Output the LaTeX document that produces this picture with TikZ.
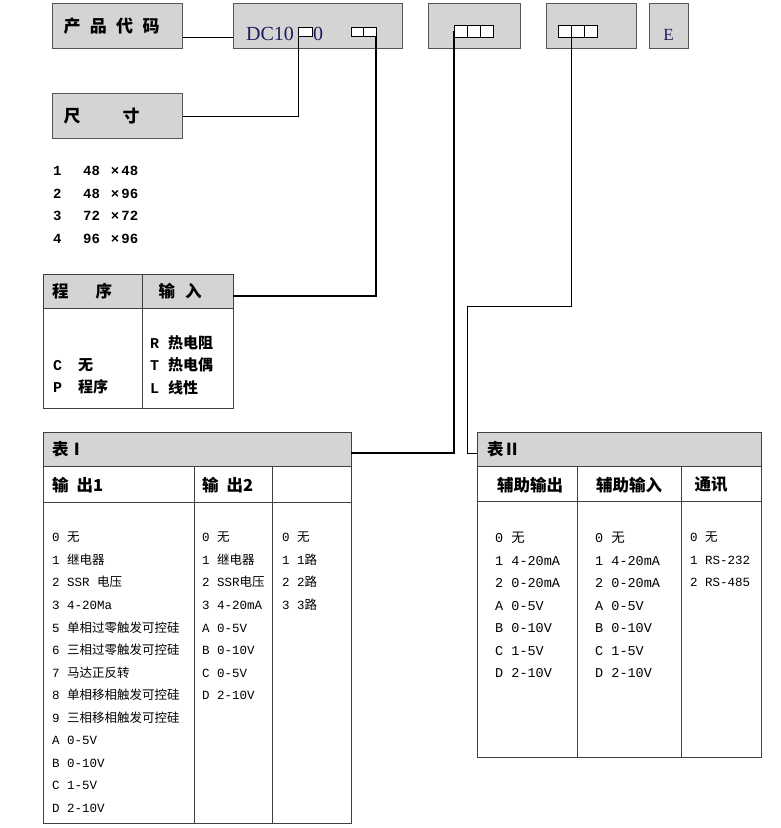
\documentclass[tikz,border=0pt]{standalone}
\usepackage{fontspec}
\setmainfont{Liberation Serif}
\setmonofont{Liberation Mono}
\newfontfamily\cj{Noto Sans CJK SC}
\usetikzlibrary{positioning,calc}
\definecolor{boxgray}{HTML}{D4D4D4}
\definecolor{boxedge}{HTML}{555555}
\definecolor{ink}{HTML}{1C1C5C}
\newcommand{\zh}[1]{{\cj #1}}
\tikzset{
  codebox/.style={draw=boxedge, fill=boxgray, line width=1.3pt, anchor=north west, inner sep=0pt},
  slot/.style={draw=black, fill=white, line width=1pt, minimum width=13.3pt, minimum height=9pt, inner sep=0pt, outer sep=0pt},
  lead/.style={line width=1.8pt, black},
  thinlead/.style={line width=0.9pt, black},
  grid/.style={draw=black!75, line width=0.9pt},
  band/.style={fill=boxgray, anchor=north west, inner sep=0pt},
  boxlabel/.style={font=\cj\bfseries\fontsize{17}{20}\selectfont, text width=108pt, align=left},
  hdr/.style={font=\cj\bfseries\fontsize{16.5}{19}\selectfont, inner sep=0pt},
  bolditems/.style={anchor=north west, align=left, inner sep=0pt, font=\ttfamily\bfseries\fontsize{15}{22.5}\selectfont},
  itemsA/.style={anchor=north west, align=left, inner sep=0pt, font=\ttfamily\fontsize{12.5}{22.55}\selectfont},
  itemsB/.style={anchor=north west, align=left, inner sep=0pt, font=\ttfamily\fontsize{13.5}{22.55}\selectfont},
}
\begin{document}
\begin{tikzpicture}[x=1pt,y=-1pt]
\useasboundingbox (0,0) rectangle (780,828);
% code line
\node[codebox, boxlabel, minimum width=130pt, minimum height=45pt] (prodbox) at (52,3) {产\hspace{9.3pt}品\hspace{9.3pt}代\hspace{9.3pt}码};
\node[codebox, boxlabel, minimum width=130pt, minimum height=45pt] (sizebox) at (52,93) {尺\hspace{42pt}寸};
\node[codebox, minimum width=169pt, minimum height=45pt] (dcbox) at (233,3) {};
\node[anchor=base west, inner sep=0pt, text=ink, font=\fontsize{20}{24}\selectfont] (dctxt) at (246,40) {DC10};
\node[slot, anchor=north west, minimum width=13.5pt] (sizesq) at (298.5,27) {};
\node[anchor=base west, inner sep=0pt, text=ink, font=\fontsize{20}{24}\selectfont] (dczero) at (313,40) {0};
\node[slot, anchor=north west, minimum width=12.5pt] (outa) at (351,27) {};
\node[slot, minimum width=12.5pt, right=0pt of outa] (outb) {};
\node[codebox, minimum width=92pt, minimum height=45pt] (optbox) at (428,3) {};
\node[slot, anchor=north west, minimum height=12pt] (s3a) at (454,25) {};
\node[slot, minimum height=12pt, right=0pt of s3a] (s3b) {};
\node[slot, minimum height=12pt, right=0pt of s3b] (s3c) {};
\node[codebox, minimum width=90pt, minimum height=45pt] (auxbox) at (546,3) {};
\node[slot, anchor=north west, minimum height=12pt] (s4a) at (558,25) {};
\node[slot, minimum height=12pt, right=0pt of s4a] (s4b) {};
\node[slot, minimum height=12pt, right=0pt of s4b] (s4c) {};
\node[codebox, minimum width=39pt, minimum height=45pt] (ebox) at (649,3) {};
\node[anchor=base, inner sep=0pt, text=ink, font=\fontsize{17}{20}\selectfont] (etxt) at (668.5,40) {E};

% sizes
\node[bolditems, font=\ttfamily\bfseries\fontsize{14}{22.6}\selectfont] (sizelist) at (53,166) {%
  \makebox[30pt][l]{1}48\hspace{11pt}×\hspace{2pt}48\\
  \makebox[30pt][l]{2}48\hspace{11pt}×\hspace{2pt}96\\
  \makebox[30pt][l]{3}72\hspace{11pt}×\hspace{2pt}72\\
  \makebox[30pt][l]{4}96\hspace{11pt}×\hspace{2pt}96};

% program / input
\node[band, minimum width=190pt, minimum height=34pt] (proghdr) at (43,274) {};
\draw[grid] (43,274) rectangle (233,408);
\draw[grid] (43,308) -- (233,308);
\draw[grid] (142,274) -- (142,408);
\node[hdr, anchor=west] (progt) at (52,291) {程\hspace{27pt}序};
\node[hdr] (inpt) at (180,291) {输\hspace{10pt}入};
\node[bolditems] (progopts) at (53,358) {%
  \makebox[25pt][l]{C}\zh{无}\\
  \makebox[25pt][l]{P}\zh{程序}};
\node[bolditems] (inopts) at (150,335) {%
  \makebox[18pt][l]{R}\zh{热电阻}\\
  \makebox[18pt][l]{T}\zh{热电偶}\\
  \makebox[18pt][l]{L}\zh{线性}};

% table I
\node[band, minimum width=308pt, minimum height=34pt] (tabAhdr) at (43,432) {};
\draw[grid] (43,432) rectangle (351,823);
\draw[grid] (43,466) -- (351,466);
\draw[grid] (43,502) -- (351,502);
\draw[grid] (194,466) -- (194,823);
\draw[grid] (272,466) -- (272,823);
\node[hdr, anchor=west] (tabAtitle) at (52,449) {表Ⅰ};
\node[hdr, anchor=west] (out1t) at (52,485) {输\hspace{8pt}出1};
\node[hdr, anchor=west] (out2t) at (202,485) {输\hspace{8pt}出2};
\node[itemsA] (out1opts) at (52,532) {%
  0 \zh{无}\\
  1 \zh{继电器}\\
  2 SSR \zh{电压}\\
  3 4-20Ma\\
  5 \zh{单相过零触发可控硅}\\
  6 \zh{三相过零触发可控硅}\\
  7 \zh{马达正反转}\\
  8 \zh{单相移相触发可控硅}\\
  9 \zh{三相移相触发可控硅}\\
  A 0-5V\\
  B 0-10V\\
  C 1-5V\\
  D 2-10V};
\node[itemsA] (out2opts) at (202,532) {%
  0 \zh{无}\\
  1 \zh{继电器}\\
  2 SSR\zh{电压}\\
  3 4-20mA\\
  A 0-5V\\
  B 0-10V\\
  C 0-5V\\
  D 2-10V};
\node[itemsA] (routeopts) at (282,532) {%
  0 \zh{无}\\
  1 1\zh{路}\\
  2 2\zh{路}\\
  3 3\zh{路}};

% table II
\node[band, minimum width=284pt, minimum height=34pt] (tabBhdr) at (477,432) {};
\draw[grid] (477,432) rectangle (761,757);
\draw[grid] (477,466) -- (761,466);
\draw[grid] (477,501) -- (761,501);
\draw[grid] (577,466) -- (577,757);
\draw[grid] (681,466) -- (681,757);
\node[hdr, anchor=west] (tabBtitle) at (487,449) {表Ⅱ};
\node[hdr] (auxoutt) at (530,485) {辅助输出};
\node[hdr] (auxint) at (629,485) {辅助输入};
\node[hdr] (commt) at (711,485) {通讯};
\node[itemsB] (auxoutopts) at (495,532) {%
  0 \zh{无}\\
  1 4-20mA\\
  2 0-20mA\\
  A 0-5V\\
  B 0-10V\\
  C 1-5V\\
  D 2-10V};
\node[itemsB] (auxinopts) at (595,532) {%
  0 \zh{无}\\
  1 4-20mA\\
  2 0-20mA\\
  A 0-5V\\
  B 0-10V\\
  C 1-5V\\
  D 2-10V};
\node[itemsB, font=\ttfamily\fontsize{12.5}{22.55}\selectfont] (commopts) at (690,532) {%
  0 \zh{无}\\
  1 RS-232\\
  2 RS-485};

% connectors
\draw[thinlead] ($(prodbox.east)+(0,11.5)$) -- ($(dcbox.west)+(0,11.5)$);
\draw[thinlead] (sizebox.east) -| (sizesq.south west);
\draw[lead] (outb.south east) |- ($(proghdr.east)+(0,5)$);
\draw[lead] (s3a.west) |- ($(tabAhdr.east)+(0,4)$);
\draw[thinlead] (s4a.south east) -- ++(0,269) -| ($(tabBhdr.west)+(-10,4)$) -- ($(tabBhdr.west)+(0,4)$);
\end{tikzpicture}
\end{document}
